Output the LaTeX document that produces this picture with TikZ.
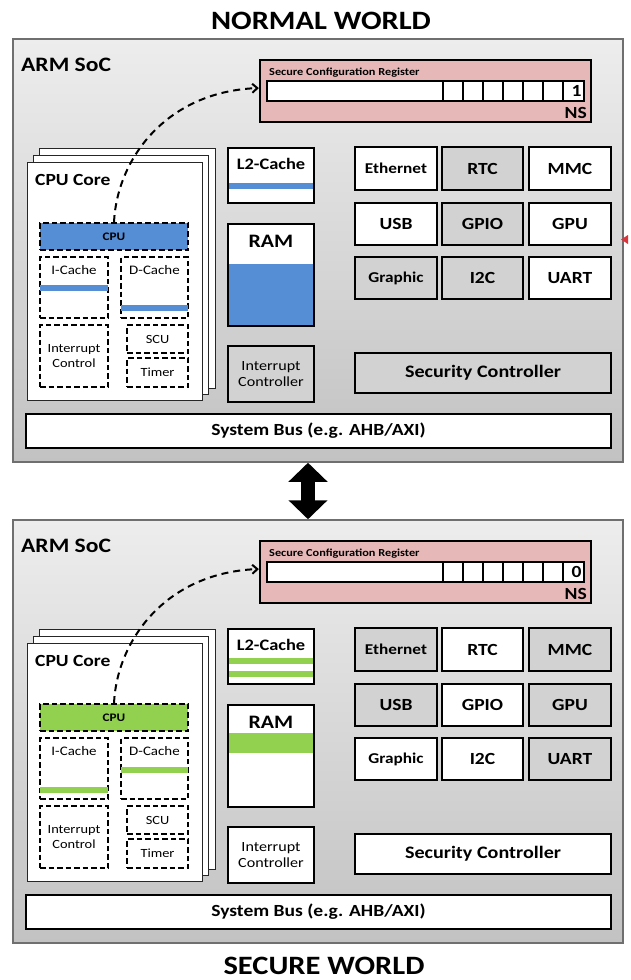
\documentclass[tikz,border=0pt]{standalone}
\usepackage{fontspec}
\setmainfont{Carlito}[FakeStretch=1.15]
\usetikzlibrary{arrows.meta}
\definecolor{socborder}{HTML}{6F6F6F}
\definecolor{socTop}{HTML}{EDEDED}
\definecolor{socBot}{HTML}{C2C2C2}
\definecolor{grayfill}{HTML}{D2D2D2}
\definecolor{pinkfill}{HTML}{E6B9B8}
\definecolor{bluefill}{HTML}{558ED5}
\definecolor{greenfill}{HTML}{92D050}
\definecolor{redtri}{HTML}{D9363E}
\newcommand\bx[7]{%
  \pgfmathsetmacro\bxcx{(#2+#4)/2}%
  \pgfmathsetmacro\bxcy{(#3+#5)/2}%
  \pgfmathsetmacro\bxw{#4-#2}%
  \pgfmathsetmacro\bxh{#5-#3}%
  \node[#6, minimum width=\bxw pt, minimum height=\bxh pt] (#1) at (\bxcx,\bxcy) {#7};}
\newcommand\fs[1]{\fontsize{#1}{#1}\selectfont}
\tikzset{
  socbox/.style={draw=socborder, line width=1.5pt, top color=socTop, bottom color=socBot, inner sep=0pt},
  pbox/.style={draw=black, line width=2.4pt, inner sep=0pt, align=center, font=\fs{17}\bfseries},
  page/.style={draw=black!85, line width=1pt, fill=white, inner sep=0pt},
  dbox/.style={draw=black, line width=1.8pt, dash pattern=on 5.5pt off 3pt, inner sep=0pt, align=center, font=\fs{12.5}},
  regbox/.style={draw=black, line width=2.4pt, fill=pinkfill, inner sep=0pt},
  cellbox/.style={draw=black, line width=1.6pt, fill=white, inner sep=0pt},
  lbl/.style={inner sep=0pt},
  nsarrow/.style={line width=2pt, dash pattern=on 7pt off 5pt, -{Straight Barb[length=5pt,width=9pt,line width=2pt]}},
  worldarrow/.style={line width=14pt, {Triangle[length=19pt,width=38pt]}-{Triangle[length=19pt,width=38pt]}},
}
% #1 prefix, #2 NS bit
\newcommand\socworld[2]{%
  \bx{#1soc}{13}{39}{623}{462}{socbox}{}
  \node[lbl, anchor=base west, font=\fs{20.5}\bfseries] (#1arm) at (21,71) {ARM SoC};
  % secure configuration register
  \bx{#1reg}{260}{60}{591}{122}{regbox}{}
  \node[lbl, anchor=base west, font=\fs{10.7}\bfseries] (#1regt) at (269,75) {Secure Configuration Register};
  \bx{#1bar}{267}{81}{443}{101}{cellbox}{}
  \bx{#1c1}{443}{81}{463}{101}{cellbox}{}
  \bx{#1c2}{463}{81}{483}{101}{cellbox}{}
  \bx{#1c3}{483}{81}{503}{101}{cellbox}{}
  \bx{#1c4}{503}{81}{523}{101}{cellbox}{}
  \bx{#1c5}{523}{81}{543}{101}{cellbox}{}
  \bx{#1c6}{543}{81}{563}{101}{cellbox}{}
  \bx{#1c7}{563}{81}{584}{101}{cellbox,font=\fs{17}\bfseries}{\hspace*{6pt}#2}
  \node[lbl, anchor=base east, font=\fs{17}\bfseries] (#1ns) at (587,118) {NS};
  % CPU core stack
  \bx{#1pg3}{39}{148}{215}{388}{page}{}
  \bx{#1pg2}{33}{155}{208}{394}{page}{}
  \bx{#1pg1}{27}{162}{202}{400}{page}{}
  \node[lbl, anchor=base west, font=\fs{17}\bfseries] (#1core) at (35,185) {CPU Core};
  \bx{#1cpu}{40}{223}{188}{250}{dbox,fill=\cCpu,font=\fs{11.5}\bfseries}{CPU}
  \bx{#1ic}{40}{257}{108}{318}{dbox}{}
  \node[lbl, font=\fs{13}] (#1ict) at (74,270) {I-Cache};
  \bx{#1dc}{121}{257}{188}{318}{dbox}{}
  \node[lbl, font=\fs{13}] (#1dct) at (154.5,270) {D-Cache};
  \bx{#1irq}{40}{325}{108}{387}{dbox}{Interrupt\\[2pt]Control}
  \bx{#1scu}{127}{325}{188}{353}{dbox}{SCU}
  \bx{#1tmr}{127}{358}{188}{387}{dbox}{Timer}
  % caches, RAM
  \bx{#1l2}{228}{148}{314}{203}{pbox,fill=white}{}
  \node[lbl, font=\fs{16}\bfseries] (#1l2t) at (271,164) {L2-Cache};
  \bx{#1ram}{228}{224}{314}{326}{pbox,fill=white}{}
  \node[lbl, font=\fs{19}\bfseries] (#1ramt) at (271,241) {RAM};
  \bx{#1gic}{228}{346}{314}{402}{pbox,fill=\cGic,font=\fs{14}}{Interrupt\\[2pt]Controller}
  % peripherals
  \bx{#1eth}{355}{147}{437}{190}{pbox,fill=\cEth,font=\fs{15}\bfseries}{Ethernet}
  \bx{#1rtc}{442}{147}{523}{190}{pbox,fill=\cRtc}{RTC}
  \bx{#1mmc}{529}{147}{611}{190}{pbox,fill=\cMmc}{MMC}
  \bx{#1usb}{355}{203}{437}{245}{pbox,fill=\cUsb}{USB}
  \bx{#1gpio}{442}{203}{523}{245}{pbox,fill=\cGpio}{GPIO}
  \bx{#1gpu}{529}{203}{611}{245}{pbox,fill=\cGpu}{GPU}
  \bx{#1gfx}{355}{257}{437}{299}{pbox,fill=\cGfx,font=\fs{15}\bfseries}{Graphic}
  \bx{#1i2c}{442}{257}{523}{299}{pbox,fill=\cIic}{I2C}
  \bx{#1uart}{529}{257}{611}{299}{pbox,fill=\cUart}{UART}
  \bx{#1sec}{355}{353}{611}{393}{pbox,fill=\cSec,font=\fs{17.5}\bfseries}{Security Controller}
  \bx{#1bus}{26}{414}{611}{448}{pbox,fill=white,font=\fs{17}\bfseries}{System Bus (e.g. AHB/AXI)}
  % access to the NS bit
  \draw[nsarrow] (#1cpu.north) .. controls (117,160) and (165,92) .. ([yshift=3pt]#1reg.west);
}
\begin{document}
\begin{tikzpicture}[x=1pt,y=-1pt]
\useasboundingbox[fill=white] (0,0) rectangle (630,980);
\node[lbl, anchor=base, font=\fs{26.5}\bfseries] (normal) at (321,29) {NORMAL WORLD};
% normal world
\def\cCpu{bluefill}\def\cGic{grayfill}\def\cSec{grayfill}
\def\cEth{white}\def\cRtc{grayfill}\def\cMmc{white}
\def\cUsb{white}\def\cGpio{grayfill}\def\cGpu{white}
\def\cGfx{grayfill}\def\cIic{grayfill}\def\cUart{white}
\begin{scope}
  \socworld{n-}{1}
  \fill[bluefill] (229.2,183) rectangle (312.8,189);
  \fill[bluefill] (229.2,264) rectangle (312.8,324.8);
  \fill[bluefill] (40,285) rectangle (108,291);
  \fill[bluefill] (121,305) rectangle (188,311);
\end{scope}
% secure world
\def\cCpu{greenfill}\def\cGic{white}\def\cSec{white}
\def\cEth{grayfill}\def\cRtc{white}\def\cMmc{grayfill}
\def\cUsb{grayfill}\def\cGpio{white}\def\cGpu{grayfill}
\def\cGfx{white}\def\cIic{white}\def\cUart{grayfill}
\begin{scope}[shift={(0,481)}]
  \socworld{s-}{0}
  \fill[greenfill] (229.2,177) rectangle (312.8,183);
  \fill[greenfill] (229.2,190) rectangle (312.8,196);
  \fill[greenfill] (229.2,252) rectangle (312.8,272);
  \fill[greenfill] (40,306) rectangle (108,312);
  \fill[greenfill] (121,286) rectangle (188,292);
\end{scope}
\draw[worldarrow] ([xshift=-10pt]n-soc.south) -- ([xshift=-10pt]s-soc.north);
\fill[redtri] (621,239.5) -- (628,235) -- (628,244) -- cycle;
\node[lbl, anchor=base, font=\fs{26.5}\bfseries] (secure) at (324,974.5) {SECURE WORLD};
\end{tikzpicture}
\end{document}
